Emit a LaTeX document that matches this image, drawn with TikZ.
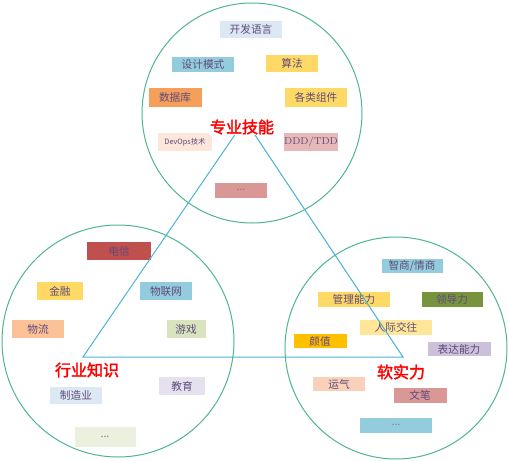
\documentclass[tikz,border=0pt]{standalone}
\usepackage{fontspec}
\newfontfamily\cjk{Noto Sans CJK SC}
\newfontfamily\cjkbold[FakeBold=2]{Noto Sans CJK SC}
\definecolor{ringgreen}{HTML}{4FB58A}
\definecolor{triblue}{HTML}{4BB3D3}
\definecolor{tagtext}{HTML}{604A7B}
\definecolor{cPaleBlue}{HTML}{DCE8F3}
\definecolor{cTeal}{HTML}{93CDDD}
\definecolor{cYellow}{HTML}{FFD966}
\definecolor{cOrange}{HTML}{F5A05A}
\definecolor{cPeach}{HTML}{FCE7DA}
\definecolor{cPink}{HTML}{E6B9B8}
\definecolor{cRose}{HTML}{D99795}
\definecolor{cRed}{HTML}{C0504D}
\definecolor{cLightOrange}{HTML}{FAC296}
\definecolor{cLightGreen}{HTML}{D7E4BD}
\definecolor{cLavender}{HTML}{E6E1EE}
\definecolor{cPaleGreen}{HTML}{EBF1DE}
\definecolor{cGreen}{HTML}{77933C}
\definecolor{cLightYellow}{HTML}{FFE699}
\definecolor{cGold}{HTML}{FFC000}
\definecolor{cLilac}{HTML}{CCC1DA}
\definecolor{cSalmon}{HTML}{F9D0B9}
\tikzset{every picture/.style={line width=0.75pt}}
\tikzset{
  ring/.style={draw=ringgreen, circle, inner sep=0pt},
  tag/.style={inner sep=0pt, text=tagtext, font=\cjk\fontsize{8}{9}\selectfont},
  heading/.style={inner sep=0.5pt, fill=white, text=red, font=\cjkbold\fontsize{12}{13}\selectfont}
}

\begin{document}
\begin{tikzpicture}[x=0.75pt,y=0.75pt,yscale=-1,xscale=1]
\useasboundingbox (0,0) rectangle (508,461);

%Shape: Circle [skill]
\draw (252,113) node [ring, minimum size=165pt] (skillring) {};
%Shape: Circle [domain]
\draw (118,341) node [ring, minimum size=174pt] (domainring) {};
%Shape: Circle [soft]
\draw (396,348) node [ring, minimum size=166.5pt] (softring) {};

% Tags: skill
\draw (251,29) node [tag, fill=cPaleBlue, minimum width=46.5pt, minimum height=12.75pt] (kfyy) {开发语言};
\draw (203,64) node [tag, fill=cTeal, minimum width=46.5pt, minimum height=11.25pt] (sjms) {设计模式};
\draw (292,63) node [tag, fill=cYellow, minimum width=39pt, minimum height=12.75pt] (sf) {算法};
\draw (175,97) node [tag, fill=cOrange, minimum width=39.75pt, minimum height=14.25pt] (sjk) {数据库};
\draw (316,97) node [tag, fill=cYellow, minimum width=46.5pt, minimum height=14.25pt] (zj) {各类组件};
\draw (185,142) node [tag, fill=cPeach, minimum width=40.5pt, minimum height=13.5pt, font=\cjk\fontsize{5.5}{6}\selectfont] (devops) {DevOps技术};
\draw (311,142) node [tag, fill=cPink, minimum width=39pt, minimum height=13.5pt, font=\fontsize{7.5}{8}\selectfont] (ddd) {DDD/TDD};
\draw (241,190) node [tag, fill=cRose, minimum width=39pt, minimum height=11.25pt, text=gray] (skillmore) {...};

% Tags: domain
\draw (119,251) node [tag, fill=cRed, minimum width=48pt, minimum height=13.5pt] (dx) {电信};
\draw (60,291) node [tag, fill=cYellow, minimum width=34.5pt, minimum height=13.5pt] (jr) {金融};
\draw (166,291) node [tag, fill=cTeal, minimum width=39pt, minimum height=13.5pt] (wlw) {物联网};
\draw (38,329) node [tag, fill=cLightOrange, minimum width=39pt, minimum height=13.5pt] (wl) {物流};
\draw (186,329) node [tag, fill=cLightGreen, minimum width=29.25pt, minimum height=13.5pt] (yx) {游戏};
\draw (182,386) node [tag, fill=cLavender, minimum width=34.5pt, minimum height=13.5pt] (jy) {教育};
\draw (76,395) node [tag, fill=cPaleBlue, minimum width=39pt, minimum height=12.75pt] (zzy) {制造业};
\draw (105,437) node [tag, fill=cPaleGreen, minimum width=45.75pt, minimum height=15pt, text=gray] (domainmore) {...};

% Tags: soft
\draw (412,266) node [tag, fill=cTeal, minimum width=45.75pt, minimum height=10.5pt] (zs) {智商/情商};
\draw (354,299) node [tag, fill=cYellow, minimum width=54pt, minimum height=11.25pt] (glnl) {管理能力};
\draw (452,299) node [tag, fill=cGreen, minimum width=45.75pt, minimum height=11.25pt] (ldl) {领导力};
\draw (396,327) node [tag, fill=cLightYellow, minimum width=54pt, minimum height=11.25pt] (rjjw) {人际交往};
\draw (320,341) node [tag, fill=cGold, minimum width=39.75pt, minimum height=10.5pt] (yz) {颜值};
\draw (459,349) node [tag, fill=cLilac, minimum width=47.25pt, minimum height=10.5pt] (bdnl) {表达能力};
\draw (339,384) node [tag, fill=cSalmon, minimum width=39pt, minimum height=10.5pt] (yq) {运气};
\draw (420,395) node [tag, fill=cRose, minimum width=39.75pt, minimum height=11.25pt] (wb) {文笔};
\draw (396,425) node [tag, fill=cTeal, minimum width=54pt, minimum height=11.25pt, text=gray] (softmore) {...};

%Shape: Triangle
\coordinate (apex) at (245,120);
\coordinate (lft) at (83,357);
\coordinate (rgt) at (403,357);
\draw [triblue] (apex) -- (lft) -- (rgt) -- cycle ;

% Text Node
\draw (242,127) node [heading] (skill) {专业技能};
% Text Node
\draw (87,370) node [heading] (domain) {行业知识};
% Text Node
\draw (401,372) node [heading] (soft) {软实力};

\end{tikzpicture}
\end{document}
